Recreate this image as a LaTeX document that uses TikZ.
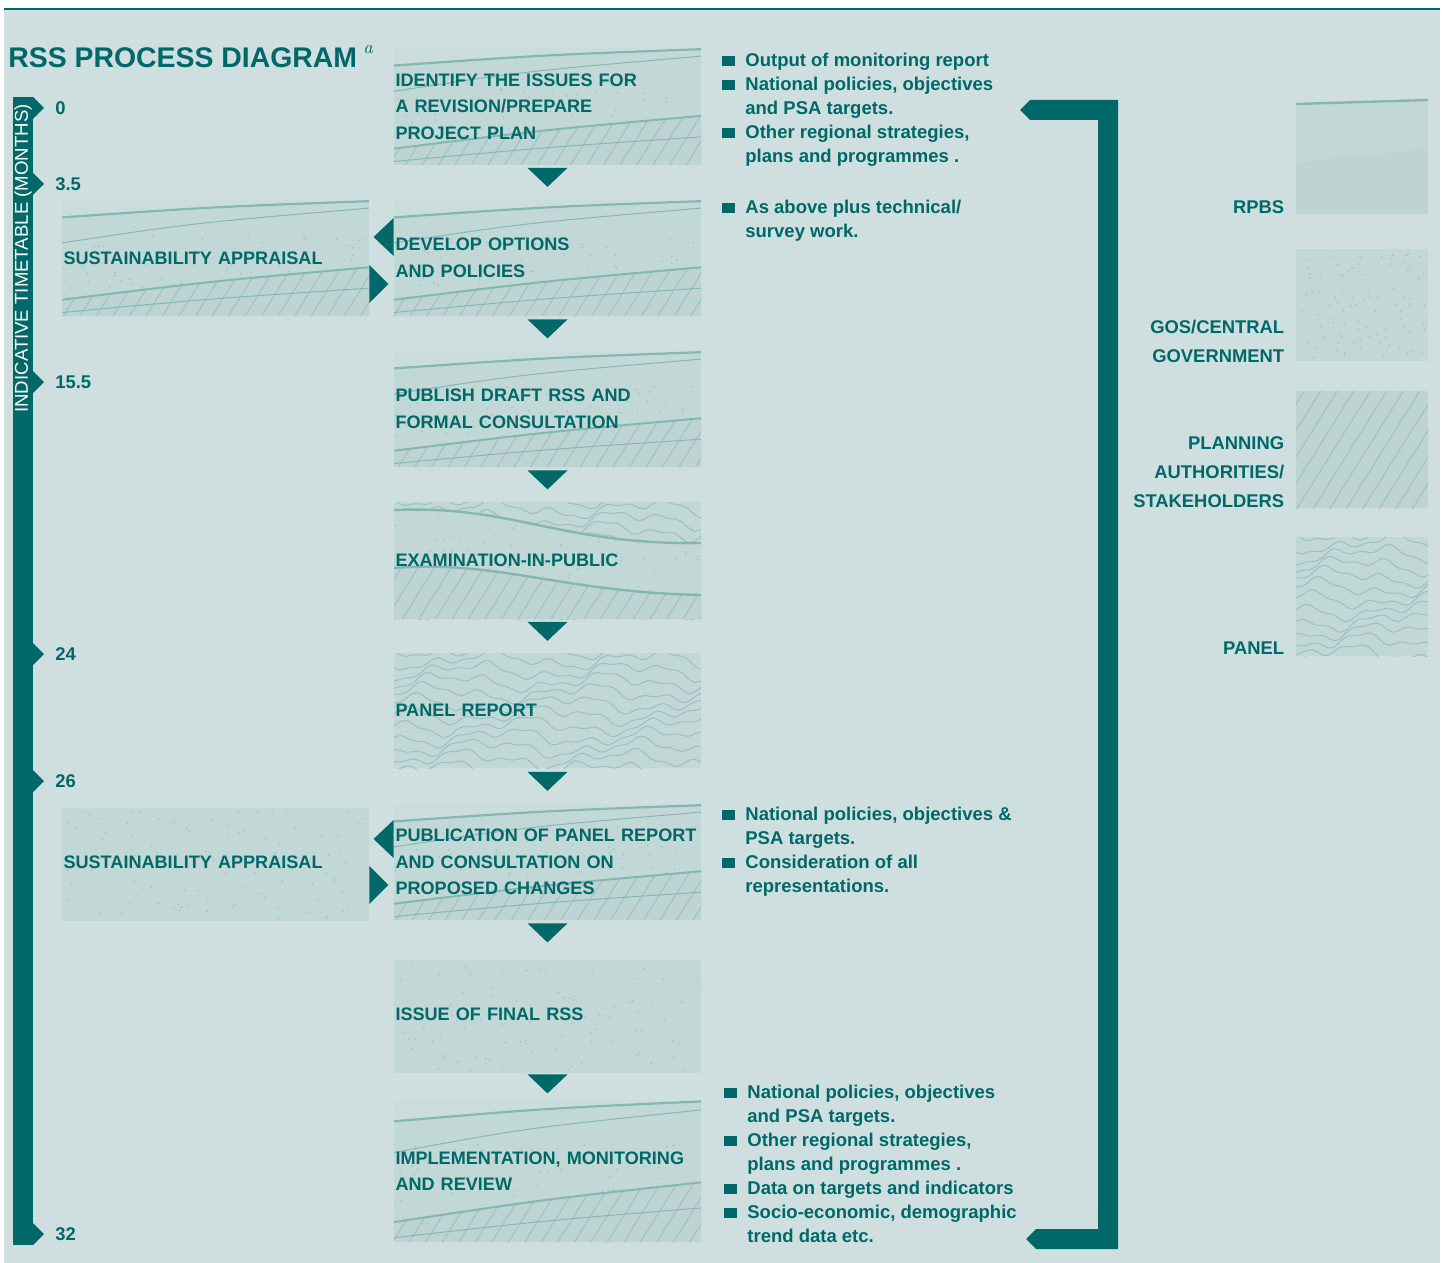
\documentclass[tikz,border=0pt]{standalone}
\usepackage{fontspec}
\setsansfont{Liberation Sans}
\usetikzlibrary{calc,positioning,patterns.meta}
\definecolor{dark}{RGB}{0,104,104}
\definecolor{bg}{RGB}{207,223,223}
\definecolor{boxc}{RGB}{194,216,215}
\definecolor{bandc}{RGB}{202,221,220}
\definecolor{linec}{RGB}{132,183,180}
\definecolor{hatchc}{RGB}{190,212,211}
\definecolor{dotc}{RGB}{160,196,194}
\tikzset{
  stage/.style={minimum width=153.5pt,minimum height=58pt,text width=152pt,
    inner xsep=.75pt,inner ysep=0pt,align=left,text=dark,
    font=\sffamily\bfseries\fontsize{9.05}{13.25}\selectfont},
  note/.style={anchor=north west,inner sep=0pt,align=left,text=dark,
    font=\sffamily\bfseries\fontsize{9.25}{12}\selectfont},
  month/.style={anchor=west,inner sep=0pt,text=dark,
    font=\sffamily\bfseries\fontsize{9.2}{11}\selectfont},
  key/.style={minimum width=66pt,minimum height=58pt,inner sep=0pt},
  keylbl/.style={anchor=south east,inner sep=0pt,align=right,text=dark,
    font=\sffamily\bfseries\fontsize{9.2}{14.5}\selectfont},
  tex/.style={draw=linec,line width=.5pt},
  soft/.style={draw=linec!70!boxc,line width=.5pt},
  hatch/.style={fill=hatchc,postaction={pattern={Lines[angle=58,distance=7pt,line width=.45pt]},
    pattern color=linec!65!hatchc}}
}
\newcommand*{\bul}{\llap{\textcolor{dark}{\rule[.3pt]{6.5pt}{5pt}}\hspace{5pt}}}
% plain band, dotted middle, hatched bottom; #1,#2 top left, #3 height
\newcommand*{\layerfill}[3]{%
  \begin{scope}
    \clip (#1,#2) rectangle ++(307,#3);
    \fill[boxc] (#1,#2) rectangle ++(307,#3);
    \fill[bandc] (#1,#2) -- ({#1},{#2+.15*#3}) .. controls ({#1+150},{#2+.06*#3}) .. ({#1+307},{#2+.01*#3}) -- (#1+307,#2) -- cycle;
    \foreach \k in {1,...,60}
      \fill[dotc] ({#1+307*rnd},{#2+(.3+.5*rnd)*#3}) circle (1);
    \draw[tex,line width=1.1pt] ({#1},{#2+.15*#3}) .. controls ({#1+150},{#2+.06*#3}) .. ({#1+307},{#2+.01*#3});
    \draw[tex] ({#1},{#2+.37*#3}) .. controls ({#1+130},{#2+.2*#3}) .. ({#1+307},{#2+.07*#3});
    \path[hatch] ({#1},{#2+.86*#3}) .. controls ({#1+150},{#2+.7*#3}) .. ({#1+307},{#2+.58*#3}) -- ({#1+307},{#2+#3}) -- ({#1},{#2+#3}) -- cycle;
    \draw[tex,line width=1pt] ({#1},{#2+.86*#3}) .. controls ({#1+150},{#2+.7*#3}) .. ({#1+307},{#2+.58*#3});
    \draw[tex] ({#1},{#2+.97*#3}) .. controls ({#1+150},{#2+.85*#3}) .. ({#1+307},{#2+.76*#3});
  \end{scope}}
% dotted field; #1,#2 top left, #3 width, #4 height
\newcommand*{\dotfield}[4]{%
  \fill[boxc] (#1,#2) rectangle ++(#3,#4);
  \foreach \k in {1,...,90}
    \fill[dotc] ({#1+2+(#3-4)*rnd},{#2+2+(#4-4)*rnd}) circle (1);}
% contour lines
\newcommand*{\contourfill}[4]{%
  \begin{scope}
    \clip (#1,#2) rectangle ++(#3,#4);
    \fill[boxc] (#1,#2) rectangle ++(#3,#4);
    \foreach \k in {0,...,12}
      \draw[soft] plot[smooth,variable=\t,domain=0:#3,samples=50]
        ({#1+\t},{#2-4+\k*11+6*sin(2.3*\t+47*\k)+4*sin(6.1*\t+23*\k)+2*sin(13*\t+71*\k)});
  \end{scope}}

\begin{document}
\begin{tikzpicture}[x=.5pt,y=-.5pt]
\pgfmathsetseed{7}
\useasboundingbox (0,0) rectangle (1442,1263);
\fill[white] (0,0) rectangle (1442,1263);
\fill[bg] (4,10) rectangle (1440,1263);
\draw[dark,line width=1pt] (4,9) -- (1440,9);
\node[anchor=west,inner sep=0pt,text=dark,font=\sffamily\bfseries\fontsize{14.2}{16}\selectfont] (title) at (8,58) {RSS PROCESS DIAGRAM};
\node[inner sep=0pt,text=dark,font=\fontsize{9}{9}\selectfont\itshape] (sup) at (368,50) {a};

% timetable
\fill[dark] (13,97) rectangle (33,1245);
\node[rotate=90,anchor=west,inner sep=0pt,text=white,font=\sffamily\fontsize{9.3}{11}\selectfont] (axis) at (23,413) {INDICATIVE TIMETABLE (MONTHS)};
\foreach \y/\m [count=\i] in {108/0,184/3.5,382/15.5,654/24,781/26,1234/32} {
  \fill[dark] (33,\y-11) -- (44,\y) -- (33,\y+11) -- cycle;
  \node[month] (t\i) at (55,\y) {\m};
}

% textures
\layerfill{394}{48}{117}
\layerfill{394}{200}{116}
\layerfill{394}{351}{116}
\begin{scope}
  \clip (394,502) rectangle ++(307,117);
  \contourfill{394}{502}{307}{117}
  \fill[boxc] (394,510) .. controls (514,505) and (560,545) .. (701,543) -- (701,595) .. controls (560,592) and (500,560) .. (394,568) -- cycle;
  \begin{scope}
    \clip (394,510) .. controls (514,505) and (560,545) .. (701,543) -- (701,595) .. controls (560,592) and (500,560) .. (394,568) -- cycle;
    \foreach \k in {1,...,60}
      \fill[dotc] ({394+307*rnd},{505+90*rnd}) circle (1);
  \end{scope}
  \path[hatch] (394,568) .. controls (500,560) and (560,592) .. (701,595) |- (394,619) -- cycle;
  \draw[tex,line width=1.2pt] (394,510) .. controls (514,505) and (560,545) .. (701,543);
  \draw[tex,line width=1.2pt] (394,568) .. controls (500,560) and (560,592) .. (701,595);
\end{scope}
\contourfill{394}{653}{307}{115}
\layerfill{394}{804}{116}
\dotfield{394}{960}{307}{113}
\layerfill{394}{1100}{142}
\layerfill{62}{200}{116}
\dotfield{62}{808}{307}{113}

% stages
\node[stage] (s1) at (547.5,106.5) {IDENTIFY THE ISSUES FOR\\A REVISION/PREPARE\\PROJECT PLAN};
\node[stage] (s2) at (547.5,258) {DEVELOP OPTIONS\\AND POLICIES};
\node[stage] (s3) at (547.5,409) {PUBLISH DRAFT RSS AND\\FORMAL CONSULTATION};
\node[stage] (s4) at (547.5,560.5) {EXAMINATION-IN-PUBLIC};
\node[stage] (s5) at (547.5,710.5) {PANEL REPORT};
\node[stage] (s6) at (547.5,862) {PUBLICATION OF PANEL REPORT\\AND CONSULTATION ON\\PROPOSED CHANGES};
\node[stage,minimum height=56.5pt] (s7) at (547.5,1014.5) {ISSUE OF FINAL RSS};
\node[stage,minimum height=71pt] (s8) at (547.5,1171) {IMPLEMENTATION, MONITORING\\AND REVIEW};
\foreach \a in {1,...,7}
  \fill[dark] ($(s\a.south)+(-20,3)$) -- ($(s\a.south)+(20,3)$) -- ($(s\a.south)+(0,22)$) -- cycle;

% sustainability appraisal
\node[stage] (sa1) at (215.5,258) {SUSTAINABILITY APPRAISAL};
\node[stage,minimum height=56.5pt] (sa2) at (215.5,862) {SUSTAINABILITY APPRAISAL};
\fill[dark] ($(s2.west)+(0,-40)$) -- ($(s2.west)+(-20,-21)$) -- ($(s2.west)+(0,-2)$) -- cycle;
\fill[dark] ($(sa1.east)+(0,7)$) -- ($(sa1.east)+(19,26)$) -- ($(sa1.east)+(0,45)$) -- cycle;
\fill[dark] ($(s6.west)+(0,-42)$) -- ($(s6.west)+(-20,-23)$) -- ($(s6.west)+(0,-4)$) -- cycle;
\fill[dark] ($(sa2.east)+(0,4)$) -- ($(sa2.east)+(19,23)$) -- ($(sa2.east)+(0,42)$) -- cycle;

% inputs
\node[note] (in1) at (745,53) {\bul Output of monitoring report\\\bul National policies, objectives\\and PSA targets.\\\bul Other regional strategies,\\plans and programmes .};
\node[note] (in2) at (745,200) {\bul As above plus technical/\\survey work.};
\node[note] (in3) at (745,807) {\bul National policies, objectives \&\\PSA targets.\\\bul Consideration of all\\representations.};
\node[note] (in4) at (747,1085) {\bul National policies, objectives\\and PSA targets.\\\bul Other regional strategies,\\plans and programmes .\\\bul Data on targets and indicators\\\bul Socio-economic, demographic\\trend data etc.};

% feedback loop
\coordinate (fbtop) at (1020,110);
\coordinate (fbbot) at (1026,1239);
\fill[dark] (fbtop) -- ++(10,-10) -- (1118,100) -- (1118,1249) -- (1036,1249) -- (fbbot) -- ++(10,-10) -- (1098,1229) -- (1098,120) -- (1030,120) -- cycle;

% key
\fill[boxc] (1296,103) -- (1428,99) -- (1428,214) -- (1296,214) -- cycle;
\fill[hatchc] (1296,162) -- (1428,149) |- (1296,214) -- cycle;
\draw[tex,line width=1.2pt] (1296,104) -- (1428,100);
\dotfield{1296}{249}{132}{112}
\fill[hatch] (1296,391) rectangle (1428,508);
\contourfill{1296}{537}{132}{119}
\node[key] (lg1) at (1362,156) {};
\node[key] (lg2) at (1362,305) {};
\node[key] (lg3) at (1362,449.5) {};
\node[key] (lg4) at (1362,596.5) {};
\node[keylbl] (k1) at ($(lg1.south west)+(-11,0)$) {RPBS};
\node[keylbl] (k2) at ($(lg2.south west)+(-11,0)$) {GOS/CENTRAL\\GOVERNMENT};
\node[keylbl] (k3) at ($(lg3.south west)+(-11,0)$) {PLANNING\\AUTHORITIES/\\STAKEHOLDERS};
\node[keylbl] (k4) at ($(lg4.south west)+(-11,0)$) {PANEL};
\end{tikzpicture}
\end{document}
